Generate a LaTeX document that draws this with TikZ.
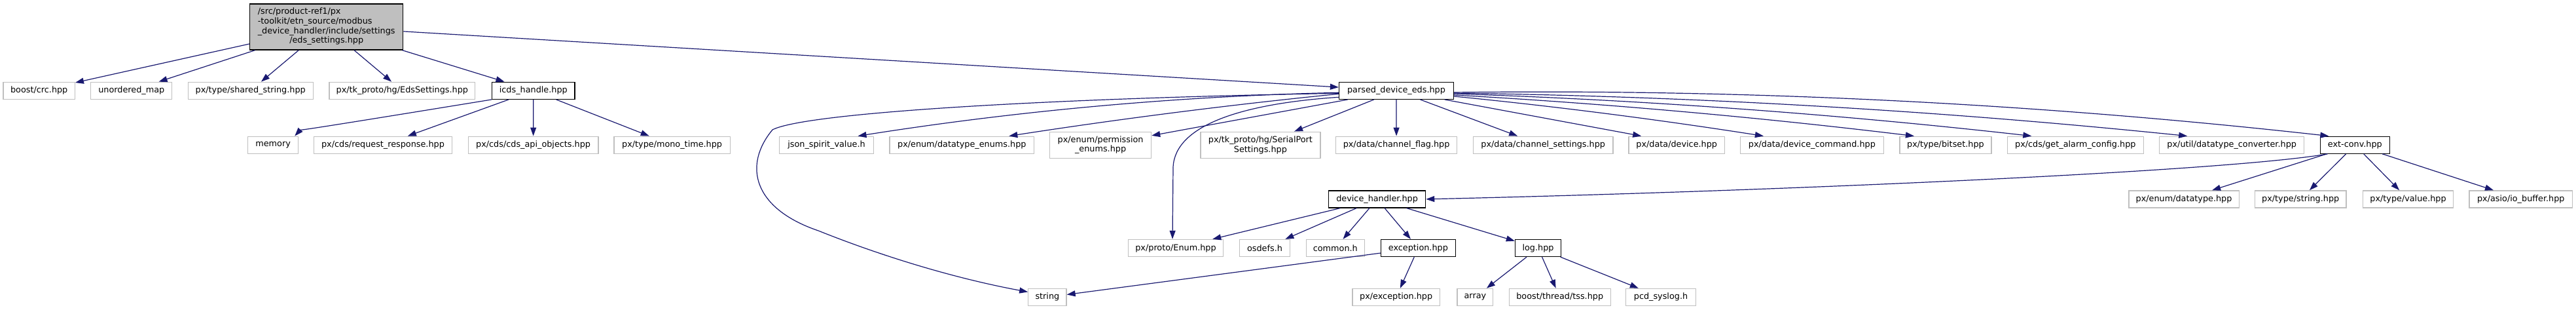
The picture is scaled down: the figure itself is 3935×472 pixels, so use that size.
\documentclass[tikz,border=0pt]{standalone}
\usepackage{fontspec}
\setmainfont{DejaVu Sans}
\usepackage{tikz}
\usetikzlibrary{arrows.meta}
\usepackage{xcolor}
\definecolor{edgeblue}{RGB}{25,25,112}
\definecolor{boxgray}{RGB}{191,191,191}

\begin{document}
\begin{tikzpicture}[x=1pt, y=-1pt,
  every node/.style={font=\fontsize{12.8}{14.7}\selectfont, inner sep=0pt, minimum height=26},
  ext/.style={draw=boxgray, line width=1.3pt, fill=white},
  doc/.style={draw=black, line width=1.3pt, fill=white},
  edge/.style={draw=edgeblue, line width=1.2pt, -{Triangle[length=13pt,width=9pt]}}]
\useasboundingbox (0,0) rectangle (3935,472);
% root file
\node[doc, fill=boxgray, minimum width=234.2, minimum height=70] (root) at (498.7,41)
  {\begin{tabular}{@{}l@{}}/src/product-ref1/px\\-toolkit/etn\_source/modbus\\\_device\_handler/include/settings\\\multicolumn{1}{@{}c@{}}{/eds\_settings.hpp}\end{tabular}};
% first row
\node[ext, minimum width=109.2] (crc) at (59.7,138.3) {boost/crc.hpp};
\node[ext, minimum width=124] (umap) at (200.8,138.3) {unordered\_map};
\node[ext, minimum width=190.9] (sstring) at (382.7,138.3) {px/type/shared\_string.hpp};
\node[ext, minimum width=222.5] (edsset) at (614.3,138.3) {px/tk\_proto/hg/EdsSettings.hpp};
\node[doc, minimum width=126.6] (icds) at (814.8,138.3) {icds\_handle.hpp};
\node[doc, minimum width=174.9] (parsed) at (2133,138.3) {parsed\_device\_eds.hpp};
% second row
\node[ext, minimum width=77] (memory) at (417.1,221.2) {memory};
\node[ext, minimum width=210.7] (reqresp) at (585,221.2) {px/cds/request\_response.hpp};
\node[ext, minimum width=198.5] (cdsapi) at (814.6,221.2) {px/cds/cds\_api\_objects.hpp};
\node[ext, minimum width=177.5] (monotime) at (1026.6,221.2) {px/type/mono\_time.hpp};
\node[ext, minimum width=144.4] (json) at (1262.5,221.2) {json\_spirit\_value.h};
\node[ext, minimum width=220.4] (dtenums) at (1469.3,221.2) {px/enum/datatype\_enums.hpp};
\node[ext, minimum width=155, minimum height=40, align=center] (permenums) at (1681.1,221.2) {px/enum/permission\\\_enums.hpp};
\node[ext, minimum width=183.1, minimum height=40, align=center] (serialport) at (1925.4,221.2) {px/tk\_proto/hg/SerialPort\\Settings.hpp};
\node[ext, minimum width=185.2] (chflag) at (2133.1,221.2) {px/data/channel\_flag.hpp};
\node[ext, minimum width=213.5] (chsettings) at (2357.2,221.2) {px/data/channel\_settings.hpp};
\node[ext, minimum width=146.4] (device) at (2561.2,221.2) {px/data/device.hpp};
\node[ext, minimum width=218.7] (devcmd) at (2767.9,221.2) {px/data/device\_command.hpp};
\node[ext, minimum width=140] (bitset) at (2971.9,221.2) {px/type/bitset.hpp};
\node[ext, minimum width=207.9] (alarmcfg) at (3170.3,221.2) {px/cds/get\_alarm\_config.hpp};
\node[ext, minimum width=221] (dtconv) at (3409.2,221.2) {px/util/datatype\_converter.hpp};
\node[doc, minimum width=106.2] (extconv) at (3597.3,221.2) {ext-conv.hpp};
% third row
\node[doc, minimum width=148] (devhandler) at (2103.6,303.9) {device\_handler.hpp};
\node[ext, minimum width=168.3] (dtype) at (3336,303.9) {px/enum/datatype.hpp};
\node[ext, minimum width=139.3] (typestring) at (3514.2,303.9) {px/type/string.hpp};
\node[ext, minimum width=137.9] (typevalue) at (3678.5,303.9) {px/type/value.hpp};
\node[ext, minimum width=157.7] (iobuffer) at (3850.8,303.9) {px/asio/io\_buffer.hpp};
% fourth row
\node[ext, minimum width=144.5] (protoenum) at (1796,378.5) {px/proto/Enum.hpp};
\node[ext, minimum width=77.1] (osdefs) at (1932,378.5) {osdefs.h};
\node[ext, minimum width=89.1] (common) at (2039.8,378.5) {common.h};
\node[doc, minimum width=113.7] (exception) at (2166.4,378.5) {exception.hpp};
\node[doc, minimum width=70.1] (log) at (2349.5,378.5) {log.hpp};
% fifth row
\node[ext, minimum width=58.2] (string) at (1599.9,453.4) {string};
\node[ext, minimum width=133.3] (pxexception) at (2132.7,453.4) {px/exception.hpp};
\node[ext, minimum width=54.7] (array) at (2253.4,453.4) {array};
\node[ext, minimum width=155] (tss) at (2382.7,453.4) {boost/thread/tss.hpp};
\node[ext, minimum width=106.6] (syslog) at (2537,453.4) {pcd\_syslog.h};
% includes of the root file
\draw[edge] (root) -- (crc);
\draw[edge] (root) -- (umap);
\draw[edge] (root) -- (sstring);
\draw[edge] (root) -- (edsset);
\draw[edge] (root) -- (icds);
\draw[edge] (root) -- (parsed);
% includes of icds_handle.hpp
\draw[edge] (icds.south west) .. controls (480,196) and (458,199) .. ([xshift=-6]memory.north east);
\draw[edge] (icds) -- (reqresp);
\draw[edge] (icds) -- (cdsapi);
\draw[edge] (icds) -- (monotime);
% includes of parsed_device_eds.hpp
\draw[edge] ([yshift=-4]parsed.west) .. controls (1600,150) and (1230,172) .. (1180,198)
  .. controls (1135,252) and (1150,318) .. (1250,352) .. controls (1350,392) and (1460,425) .. (string.165);
\draw[edge] ([yshift=-3]parsed.west) .. controls (1800,146.6) and (1555,169) .. ([xshift=48]json.north);
\draw[edge] ([yshift=-5]parsed.west) .. controls (1877.5,160) and (1709.4,181.6) .. ([xshift=72]dtenums.north);
\draw[edge] (parsed) -- (permenums);
\draw[edge] ([yshift=-10]parsed.west) .. controls (1900,158) and (1795,190) .. (1792,255) -- ([xshift=-5]protoenum.north);
\draw[edge] (parsed) -- (serialport);
\draw[edge] (parsed) -- (chflag);
\draw[edge] (parsed) -- ([xshift=-39]chsettings.north);
\draw[edge] (parsed) -- ([xshift=-54]device.north);
\draw[edge] ([yshift=-8.7]parsed.east) .. controls (2378,162.4) and (2536,182.9) .. ([xshift=-74]devcmd.north);
\draw[edge] ([yshift=-6.7]parsed.east) .. controls (2455,158.1) and (2689,179.2) .. ([xshift=-48]bitset.north);
\draw[edge] ([yshift=-4.7]parsed.east) .. controls (2515,152.8) and (2809,174.5) .. ([xshift=-67]alarmcfg.north);
\draw[edge] ([yshift=-3.7]parsed.east) .. controls (2594,147.1) and (2967,169.2) .. ([xshift=-68]dtconv.north);
\draw[edge] ([yshift=-2.7]parsed.east) .. controls (2666,135.4) and (3111,157.9) .. ([xshift=-40]extconv.north);
% includes of ext-conv.hpp
\draw[edge] ([xshift=12]extconv.south west) .. controls (3400,262) and (2700,292) .. (devhandler.east);
\draw[edge] (extconv) -- (dtype);
\draw[edge] (extconv) -- (typestring);
\draw[edge] (extconv) -- (typevalue);
\draw[edge] (extconv) -- (iobuffer);
% includes of device_handler.hpp
\draw[edge] (devhandler) -- (protoenum);
\draw[edge] (devhandler) -- (osdefs);
\draw[edge] (devhandler) -- (common);
\draw[edge] (devhandler) -- (exception);
\draw[edge] (devhandler) -- (log);
% includes of exception.hpp and log.hpp
\draw[edge] (exception) -- (string);
\draw[edge] (exception) -- (pxexception);
\draw[edge] (log) -- (array);
\draw[edge] (log) -- (tss);
\draw[edge] (log) -- (syslog);
\end{tikzpicture}
\end{document}
